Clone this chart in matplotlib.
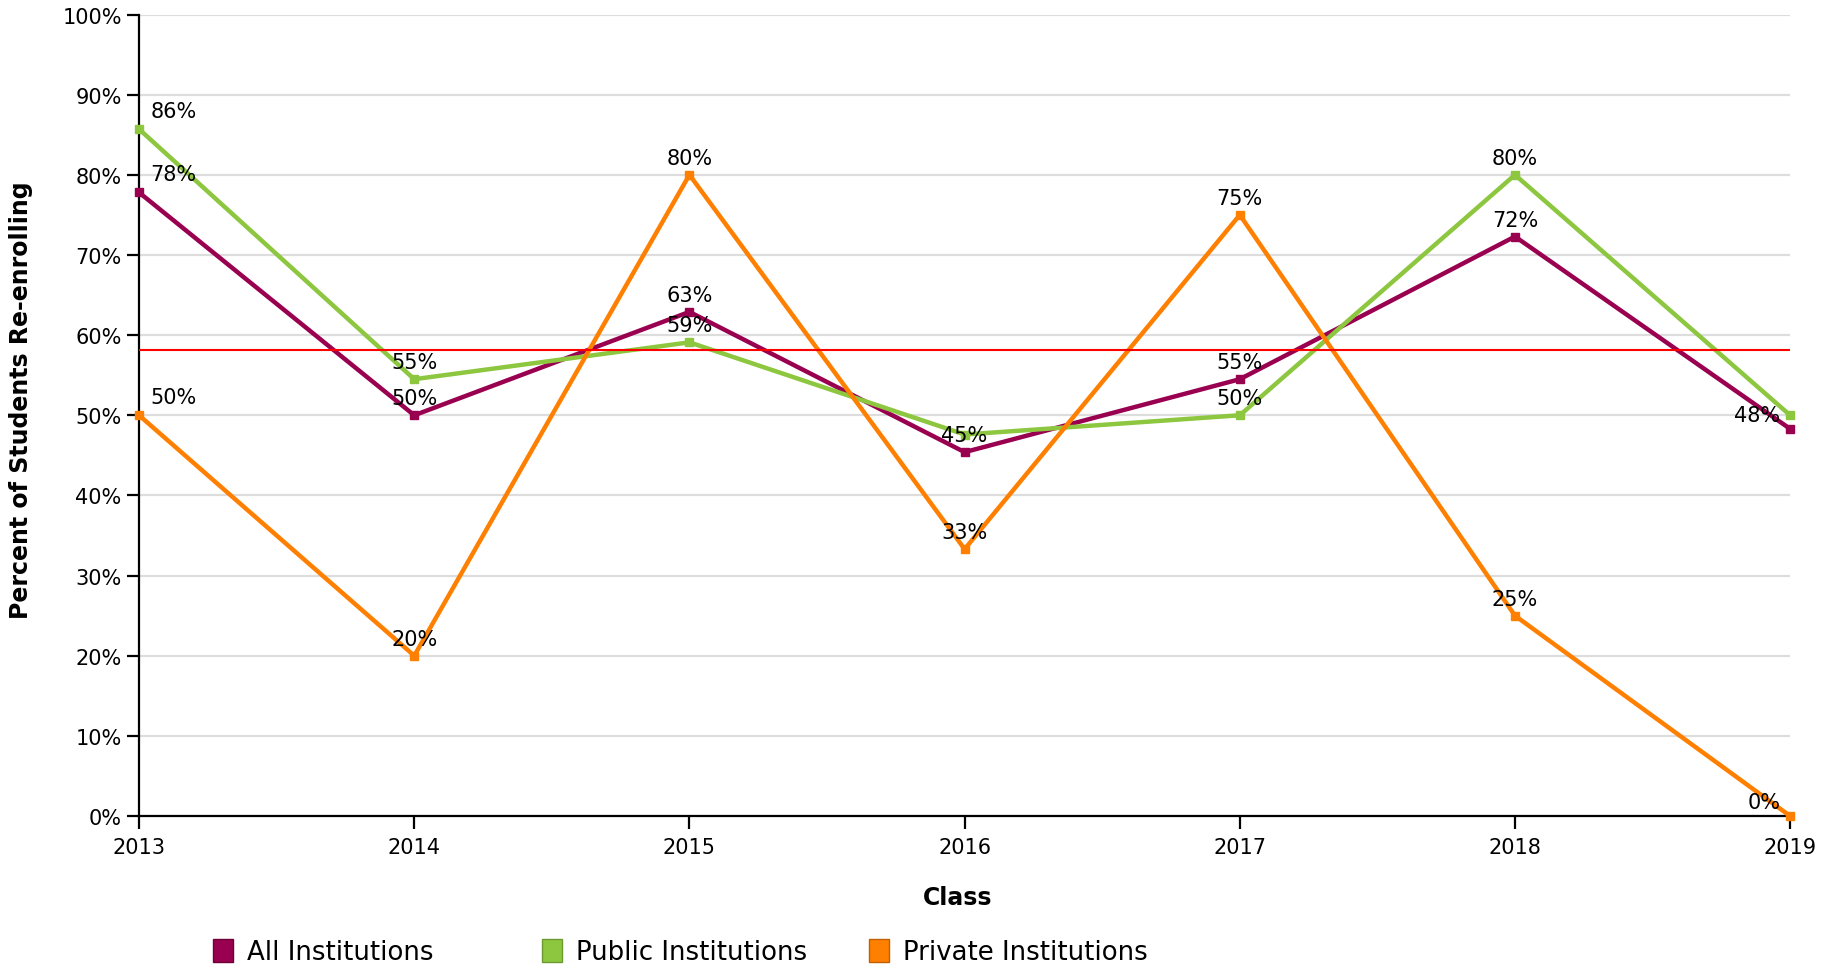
import matplotlib.pyplot as plt
import numpy as np
from matplotlib.ticker import FuncFormatter
from matplotlib.patches import Patch

years = [2013, 2014, 2015, 2016, 2017, 2018, 2019]
all_inst = [77.8, 50.0, 62.9, 45.4, 54.5, 72.3, 48.3]
public_inst = [85.7, 54.5, 59.1, 47.6, 50.0, 80.0, 50.0]
private_inst = [50.0, 20.0, 80.0, 33.3, 75.0, 25.0, 0.0]
average = 58.2

# which points get a text label (some are hidden where they overlap)
all_show = [True, True, True, True, True, True, True]
public_show = [True, True, True, False, True, True, False]
private_show = [True, True, True, True, True, True, True]

series_names = ['All Institutions', 'Public Institutions', 'Private Institutions']
c_all = '#990050'
c_pub = '#8dc63f'
c_priv = '#ff8000'

plt.rcParams['font.family'] = ['DejaVu Sans']
fig = plt.figure(figsize=(18.37, 9.70), dpi=100)
ax = fig.add_axes([0.0757, 0.1577, 0.8988, 0.8263])

for vals, col in [(all_inst, c_all), (public_inst, c_pub), (private_inst, c_priv)]:
    ax.plot(years, vals, color=col, lw=3.2, marker='s', ms=6, zorder=3, clip_on=False)

ax.axhline(average, color='#ff0000', lw=1.5, zorder=4)

def pct(v):
    return f'{int(v + 0.5)}%'

for vals, show in [(all_inst, all_show), (public_inst, public_show), (private_inst, private_show)]:
    for x, v, s in zip(years, vals, show):
        if not s:
            continue
        if x == years[0]:
            ax.annotate(pct(v), (x, v), xytext=(8, 6), textcoords='offset points',
                        ha='left', va='bottom', fontsize=15, zorder=5)
        elif x == years[-1]:
            ax.annotate(pct(v), (x, v), xytext=(-7, 3), textcoords='offset points',
                        ha='right', va='bottom', fontsize=15, zorder=5)
        else:
            ax.annotate(pct(v), (x, v), xytext=(0, 5), textcoords='offset points',
                        ha='center', va='bottom', fontsize=15, zorder=5)

ax.set_xlim(2013, 2019)
ax.set_ylim(0, 100)
ax.set_yticks(np.arange(0, 101, 10))
ax.set_xticks(years)
ax.yaxis.set_major_formatter(FuncFormatter(lambda v, p: f'{v:.0f}%'))
ax.grid(axis='y', color='#dddddd', lw=1.6)
ax.set_axisbelow(True)
for s in ['top', 'right']:
    ax.spines[s].set_visible(False)
for s in ['left', 'bottom']:
    ax.spines[s].set_linewidth(1.6)
ax.tick_params(axis='both', length=9, width=1.6, labelsize=15, direction='out')
ax.tick_params(axis='x', pad=6)

ax.set_xlabel('Class', fontsize=17, fontweight='bold', va='center')
ax.xaxis.set_label_coords(0.4958, -0.101)
ax.set_ylabel('Percent of Students Re-enrolling', fontsize=17, fontweight='bold')
ax.yaxis.set_label_coords(-0.064, 0.52)

colors = [c_all, c_pub, c_priv]
edges = ['#6e0038', '#6a9a30', '#c06000']
leg_x = [0.1160, 0.2950, 0.4733]
for name, col, ec, lx in zip(series_names, colors, edges, leg_x):
    fig.legend([Patch(facecolor=col, edgecolor=ec)], [name],
               loc='center left', bbox_to_anchor=(lx, 0.0175), frameon=False,
               fontsize=18.7, handlelength=0.77, handleheight=1.0, handletextpad=0.54,
               borderpad=0, borderaxespad=0)

fig.savefig('out.png', dpi=100)
